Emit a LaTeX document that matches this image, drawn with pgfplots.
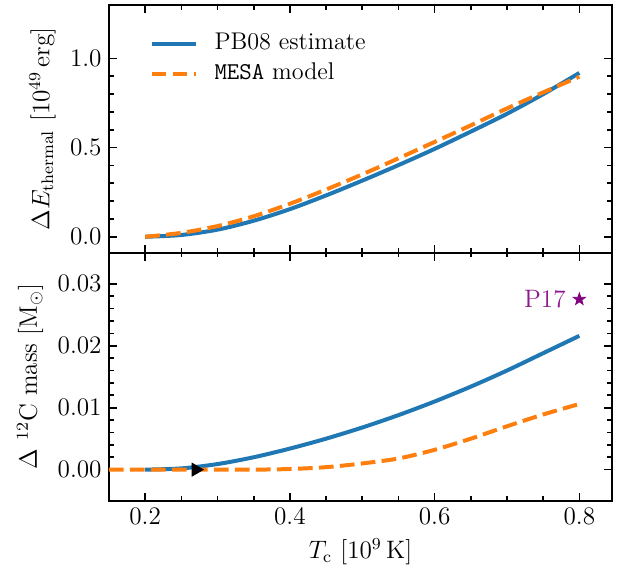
\documentclass[border=0pt]{standalone}
\usepackage{pgfplots}
\pgfplotsset{compat=1.18}
\usetikzlibrary{plotmarks}
\definecolor{c0}{HTML}{1F77B4}
\definecolor{c1}{HTML}{FF7F0E}
\definecolor{pur}{HTML}{800080}

\pgfdeclareplotmark{fstar}{%
  \pgfpathmoveto{\pgfpointpolar{90}{\pgfplotmarksize}}%
  \pgfpathlineto{\pgfpointpolar{126}{0.4\pgfplotmarksize}}%
  \pgfpathlineto{\pgfpointpolar{162}{\pgfplotmarksize}}%
  \pgfpathlineto{\pgfpointpolar{198}{0.4\pgfplotmarksize}}%
  \pgfpathlineto{\pgfpointpolar{234}{\pgfplotmarksize}}%
  \pgfpathlineto{\pgfpointpolar{270}{0.4\pgfplotmarksize}}%
  \pgfpathlineto{\pgfpointpolar{306}{\pgfplotmarksize}}%
  \pgfpathlineto{\pgfpointpolar{342}{0.4\pgfplotmarksize}}%
  \pgfpathlineto{\pgfpointpolar{18}{\pgfplotmarksize}}%
  \pgfpathlineto{\pgfpointpolar{54}{0.4\pgfplotmarksize}}%
  \pgfpathclose
  \pgfusepathqfillstroke
}

\pgfplotsset{
  panel/.style={
    scale only axis, width=239.5pt, height=118pt,
    xmin=0.15, xmax=0.845,
    xtick={0.2,0.4,0.6,0.8},
    minor x tick num=3, minor y tick num=4,
    tick align=inside,
    axis line style={line width=0.9pt},
    every tick/.style={black, line width=0.8pt},
    major tick length=3.8pt, minor tick length=2.2pt,
    tick label style={font=\large},
    label style={font=\large},
    legend image code/.code={\draw[#1] (0pt,0pt) -- (21pt,0pt);},
  },
  blueline/.style={c0, line width=1.9pt, no marks, smooth},
  orangeline/.style={c1, line width=1.9pt, no marks, smooth, dash pattern=on 7pt off 3pt},
}

\begin{document}
\begin{tikzpicture}
\path[use as bounding box] (-51.9pt,-151.8pt) rectangle (242.4pt,120.4pt);

\begin{axis}[panel,
  at={(0pt,0pt)}, anchor=south west,
  xticklabels={},
  ymin=-0.09, ymax=1.3,
  ytick={0,0.5,1},
  yticklabel style={/pgf/number format/.cd, fixed, fixed zerofill, precision=1},
  ylabel={$\Delta E_{\mathrm{thermal}}$ [$10^{49}$\,erg]},
  legend cell align=left,
  legend style={draw=none, fill=none, inner sep=0pt,
    at={(axis description cs:0.08,0.894)}, anchor=north west,
    font=\fontsize{11.5}{14}\selectfont, row sep=2.8pt, column sep=7pt,
    nodes={inner sep=1pt, text height=7.5pt, text depth=2pt}},
]
\addplot[blueline] coordinates {
(0.20,0.000) (0.25,0.010) (0.30,0.040) (0.35,0.090) (0.40,0.155)
(0.45,0.232) (0.50,0.315) (0.55,0.402) (0.60,0.493) (0.65,0.590)
(0.70,0.690) (0.75,0.800) (0.80,0.919)};
\addlegendentry{PB08 estimate}
\addplot[orangeline] coordinates {
(0.20,0.000) (0.25,0.022) (0.30,0.060) (0.35,0.115) (0.40,0.185)
(0.45,0.265) (0.50,0.350) (0.55,0.440) (0.60,0.532) (0.65,0.625)
(0.70,0.720) (0.75,0.810) (0.80,0.898)};
\addlegendentry{\texttt{MESA} model}
\end{axis}

\begin{axis}[panel,
  at={(0pt,0pt)}, anchor=north west,
  ymin=-0.005, ymax=0.035,
  ytick={0,0.01,0.02,0.03},
  scaled y ticks=false,
  yticklabel style={/pgf/number format/.cd, fixed, fixed zerofill, precision=2},
  xticklabel style={/pgf/number format/.cd, fixed, precision=1},
  xlabel={$T_{\mathrm{c}}$ [$10^9\,$K]},
  ylabel={$\Delta$ $^{12}$C mass [M$_\odot$]},
]
\addplot[only marks, mark=triangle*, mark size=3.5pt, black, mark options={rotate=-90}] coordinates {(0.27,0)};
\addplot[blueline] coordinates {
(0.20,0.0000) (0.25,0.0002) (0.30,0.0009) (0.35,0.0020) (0.40,0.0034)
(0.45,0.0050) (0.50,0.0068) (0.55,0.0088) (0.60,0.0110) (0.65,0.0134)
(0.70,0.0160) (0.75,0.0188) (0.80,0.0216)};
\addplot[orangeline] coordinates {
(0.15,0.0000) (0.20,0.0000) (0.25,0.0000) (0.30,0.0000) (0.35,0.0000)
(0.40,0.0001) (0.45,0.0004) (0.50,0.0010) (0.55,0.0018) (0.60,0.0032)
(0.65,0.0050) (0.70,0.0070) (0.75,0.0089) (0.80,0.0106)};
\addplot[only marks, mark=fstar, mark size=3pt, pur] coordinates {(0.8,0.0275)};
\node[anchor=east, text=pur!90, font=\large] at (axis cs:0.8,0.0275) [xshift=-3pt] {P17};
\end{axis}
\end{tikzpicture}
\end{document}
